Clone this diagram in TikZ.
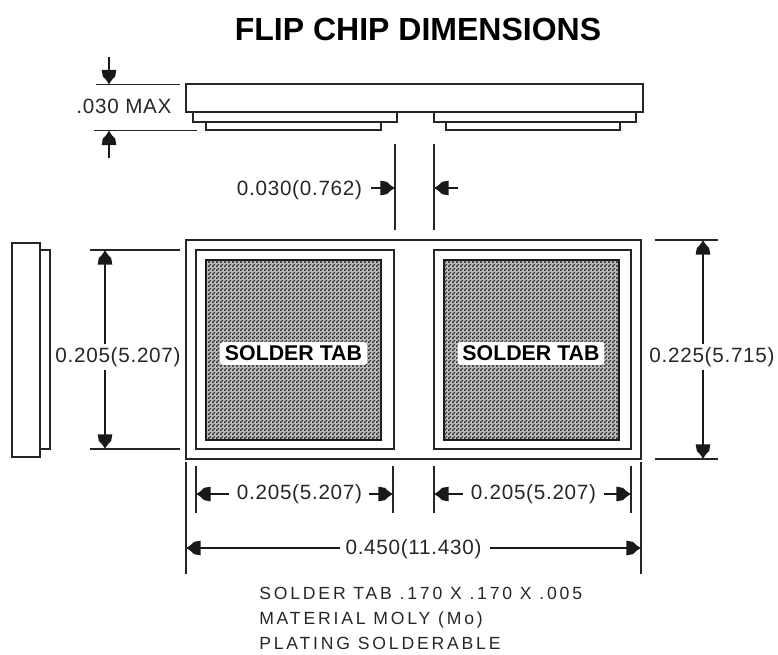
\documentclass[tikz,border=0pt]{standalone}
\usepackage{fontspec}
\setmainfont{Liberation Sans}
\newfontfamily\dimfont[LetterSpace=3.5]{Liberation Sans}
\newfontfamily\notefont[LetterSpace=16]{Liberation Sans}
\usetikzlibrary{arrows.meta,patterns}
\pgfdeclarepatternformonly{chk}{\pgfqpoint{0pt}{0pt}}{\pgfqpoint{3pt}{3pt}}{\pgfqpoint{3pt}{3pt}}{%
  \pgfpathrectangle{\pgfqpoint{0pt}{0pt}}{\pgfqpoint{1.5pt}{1.5pt}}%
  \pgfpathrectangle{\pgfqpoint{1.5pt}{1.5pt}}{\pgfqpoint{1.5pt}{1.5pt}}%
  \pgfusepath{fill}}
\pgfdeclarearrow{
  name=Bell,
  parameters={\the\pgfarrowlength},
  setup code={\pgfarrowssettipend{0pt}\pgfarrowssetlineend{-0.9\pgfarrowlength}\pgfarrowssetvisualbackend{-\pgfarrowlength}},
  drawing code={%
    \pgfpathmoveto{\pgfqpoint{0pt}{0pt}}%
    \pgfpathcurveto{\pgfpoint{-0.25\pgfarrowlength}{0.12\pgfarrowlength}}{\pgfpoint{-0.45\pgfarrowlength}{0.3\pgfarrowlength}}{\pgfpoint{-0.55\pgfarrowlength}{0.42\pgfarrowlength}}%
    \pgfpathlineto{\pgfpoint{-\pgfarrowlength}{0.5\pgfarrowlength}}%
    \pgfpathlineto{\pgfpoint{-\pgfarrowlength}{-0.5\pgfarrowlength}}%
    \pgfpathlineto{\pgfpoint{-0.55\pgfarrowlength}{-0.42\pgfarrowlength}}%
    \pgfpathcurveto{\pgfpoint{-0.45\pgfarrowlength}{-0.3\pgfarrowlength}}{\pgfpoint{-0.25\pgfarrowlength}{-0.12\pgfarrowlength}}{\pgfqpoint{0pt}{0pt}}%
    \pgfpathclose\pgfusepathqfill},
  defaults={length=11pt}}
\tikzset{
  ln/.style={line width=1.45pt,draw=black!85},
  ext/.style={line width=1.1pt,draw=black!85},
  dimarrow/.style={line width=1.1pt,draw=black!90,-{Bell[length=11pt]}},
  lab/.style={font=\dimfont\fontsize{15.5}{17}\selectfont,inner sep=0pt,text=black!85},
  note/.style={font=\notefont\fontsize{13.2}{15}\selectfont,inner sep=0pt,anchor=west,text=black!85},
  tabfill/.style={draw=black!90,line width=0.8pt,fill=black!25,postaction={pattern=chk,pattern color=black!85}},
  tablab/.style={font=\bfseries\fontsize{16}{18}\selectfont,fill=white,rounded corners=2pt,inner sep=0pt,minimum width=110pt,minimum height=17pt,text=black}
}
\begin{document}
\begin{tikzpicture}[x=0.75pt,y=-0.75pt]
\useasboundingbox (0,0) rectangle (778,654);
\node[font=\bfseries\fontsize{24}{28}\selectfont,inner sep=0pt] (title) at (418,29.5) {FLIP CHIP DIMENSIONS};
% top view
\node[ln,draw,fill=white,inner sep=0pt,minimum width=342.5pt,minimum height=20.5pt] (body) at (414.5,98) {};
\draw[ln] (193,112) |- (397,122) -- (397,112);
\draw[ln] (206,122) |- (381,130) -- (381,122);
\draw[ln] (434,112) |- (636,122) -- (636,112);
\draw[ln] (446,122) |- (620,130) -- (620,122);
% side view
\draw[ln] (12,243) rectangle (40,457);
\draw[ln] (40,250) -| (50,449) -- (40,449);
% plan
\node[ln,draw,inner sep=0pt,minimum width=341.25pt,minimum height=164.25pt] (outer) at (413.5,349.5) {};
\node[ln,draw,inner sep=0pt,minimum width=148.5pt,minimum height=149.25pt] (padA) at (295,349.5) {};
\node[ln,draw,inner sep=0pt,minimum width=148pt,minimum height=149.25pt] (padB) at (532.3,349.5) {};
\node[tabfill,inner sep=0pt,minimum width=131.25pt,minimum height=135pt] (tabA) at (293.5,350) {};
\node[tabfill,inner sep=0pt,minimum width=131.25pt,minimum height=135pt] (tabB) at (531.5,350) {};
\node[tablab] (tabAl) at (293.5,353.5) {SOLDER TAB};
\node[tablab] (tabBl) at (531,353.5) {SOLDER TAB};
% coordinates
\coordinate (a1) at (96,84.5); \coordinate (a2) at (180,84.5);
\coordinate (b1) at (94,130.5); \coordinate (b2) at (197,130.5);
\draw[ext] (a1) -- (a2);
\draw[ext] (b1) -- (b2);
\coordinate (t1) at (109,57); \coordinate (t1e) at (109,84.5);
\coordinate (t2) at (109,158); \coordinate (t2e) at (109,130.5);
\draw[dimarrow] (t1) -- (t1e);
\draw[dimarrow] (t2) -- (t2e);
\node[lab] (max) at (124,106.5) {.030 MAX};
% gap
\coordinate (g1t) at (395,144); \coordinate (g1b) at (395,230);
\coordinate (g2t) at (434,144); \coordinate (g2b) at (434,230);
\draw[ext] (g1t) -- (g1b);
\draw[ext] (g2t) -- (g2b);
\node[lab] (gapl) at (299.5,190) {0.030(0.762)};
\coordinate (ga) at (371,188); \coordinate (gae) at (395,188);
\coordinate (gb) at (458,188); \coordinate (gbe) at (434,188);
\draw[dimarrow] (ga) -- (gae);
\draw[dimarrow] (gb) -- (gbe);
% left dim
\coordinate (l1) at (90,250); \coordinate (l2) at (180,250);
\coordinate (l3) at (90,449); \coordinate (l4) at (180,449);
\draw[ext] (l1) -- (l2);
\draw[ext] (l3) -- (l4);
\node[lab,fill=white,inner xsep=1pt,inner ysep=2pt] (ldim) at (118,357) {0.205(5.207)};
\coordinate (lt) at (105,250); \coordinate (lb) at (105,449);
\draw[dimarrow] (ldim.north -| lt) -- (lt);
\draw[dimarrow] (ldim.south -| lb) -- (lb);
% right dim
\coordinate (r1) at (655,240); \coordinate (r2) at (718,240);
\coordinate (r3) at (655,459); \coordinate (r4) at (718,459);
\draw[ext] (r1) -- (r2);
\draw[ext] (r3) -- (r4);
\node[lab,fill=white,inner xsep=1pt,inner ysep=2pt] (rdim) at (712,357) {0.225(5.715)};
\coordinate (rt) at (703,240); \coordinate (rb) at (703,459);
\draw[dimarrow] (rdim.north -| rt) -- (rt);
\draw[dimarrow] (rdim.south -| rb) -- (rb);
% bottom ext
\coordinate (e1t) at (186,462); \coordinate (e1b) at (186,574);
\coordinate (e2t) at (641,462); \coordinate (e2b) at (641,574);
\coordinate (e3t) at (196,466); \coordinate (e3b) at (196,513);
\coordinate (e4t) at (393,466); \coordinate (e4b) at (393,513);
\coordinate (e5t) at (434,466); \coordinate (e5b) at (434,513);
\coordinate (e6t) at (631,466); \coordinate (e6b) at (631,513);
\foreach \n in {1,...,6} \draw[ext] (e\n t) -- (e\n b);
% bottom dims
\node[lab] (d1) at (299.5,494) {0.205(5.207)};
\node[lab] (d2) at (533.5,494) {0.205(5.207)};
\node[lab] (d3) at (413.5,549) {0.450(11.430)};
\draw[dimarrow] (d1.west) ++(-8,0) -- (e3t |- d1.west);
\draw[dimarrow] (d1.east) ++(7,0) -- (e4t |- d1.east);
\draw[dimarrow] (d2.west) ++(-8,0) -- (e5t |- d2.west);
\draw[dimarrow] (d2.east) ++(8,0) -- (e6t |- d2.east);
\draw[dimarrow] (d3.west) ++(-5,-1) -- (e1t |- 0,548);
\draw[dimarrow] (d3.east) ++(8,-1) -- (e2t |- 0,548);
% notes
\node[note] (n1) at (259,593.5) {SOLDER TAB .170 X .170 X .005};
\node[note] (n2) at (259,619.5) {MATERIAL MOLY (Mo)};
\node[note] (n3) at (259,643) {PLATING SOLDERABLE};
\end{tikzpicture}
\end{document}
